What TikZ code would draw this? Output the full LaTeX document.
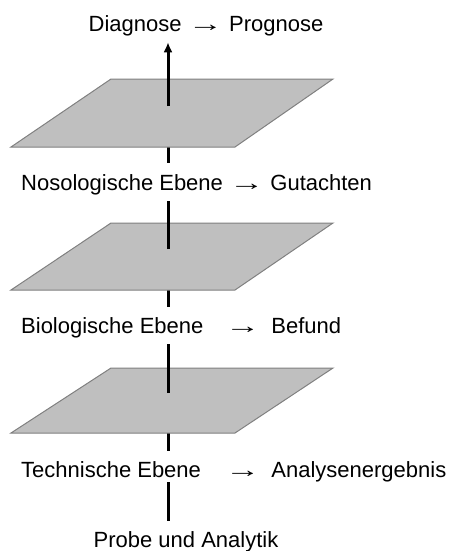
\documentclass[tikz,border=0pt]{standalone}
\usepackage{fontspec}
\setmainfont{Liberation Sans}
\usetikzlibrary{arrows.meta}
\tikzset{
  level/.style  = {inner sep=0pt, font=\fontsize{22}{26}\selectfont},
  plane/.style  = {draw=gray, line width=1pt, fill=black!25},
  stem/.style   = {-, line width=3pt, black},
  lift/.style   = {-{Latex[length=10pt, width=9pt]}, line width=3pt, black},
}
\newcommand{\toarrow}{\scalebox{1.6}[1]{→}}

\begin{document}
\begin{tikzpicture}[x=1pt, y=-1pt]
    \useasboundingbox (0,0) rectangle (453,551);

    % labels
    \node[level, anchor=base] (diag) at (206,32) {Diagnose \toarrow{} Prognose};
    \node[level, anchor=base west] (noso) at (21,190) {Nosologische Ebene \toarrow{} Gutachten};
    \node[level, anchor=base west] (bio) at (21,333)
      {\makebox[204pt][l]{Biologische Ebene}\toarrow\hspace{11pt}Befund};
    \node[level, anchor=base west] (tech) at (21,477)
      {\makebox[204pt][l]{Technische Ebene}\toarrow\hspace{11pt}Analysenergebnis};
    \node[level, anchor=base] (probe) at (186,547) {Probe und Analytik};

    % where the axis goes through each plane
    \coordinate (hole1) at (168,106);
    \coordinate (hole2) at (168,249);
    \coordinate (hole3) at (168,393);

    % axis parts lying under the planes
    \draw[stem, shorten <=10pt] (probe.north -| hole3) -- (tech.south -| hole3);
    \draw[stem, shorten <=10pt] (tech.north -| hole3) -- (hole3);
    \draw[stem, shorten <=10pt] (bio.north -| hole2) -- (hole2);
    \draw[stem, shorten <=11pt] (noso.north -| hole1) -- (hole1);

    % planes
    \draw[plane] (11,433) -- (111,368) -- (333,368) -- (235,433) -- cycle;
    \draw[plane] (11,290) -- (111,223) -- (333,223) -- (235,290) -- cycle;
    \draw[plane] (11,147) -- (111,79) -- (333,79) -- (235,147) -- cycle;

    % axis parts above the planes
    \draw[stem, shorten >=6.5pt] (hole3) -- (bio.south -| hole3);
    \draw[stem, shorten >=6.5pt] (hole2) -- (noso.south -| hole2);
    \draw[lift, shorten >=5.5pt] (hole1) -- (diag.south -| hole1);
\end{tikzpicture}
\end{document}
